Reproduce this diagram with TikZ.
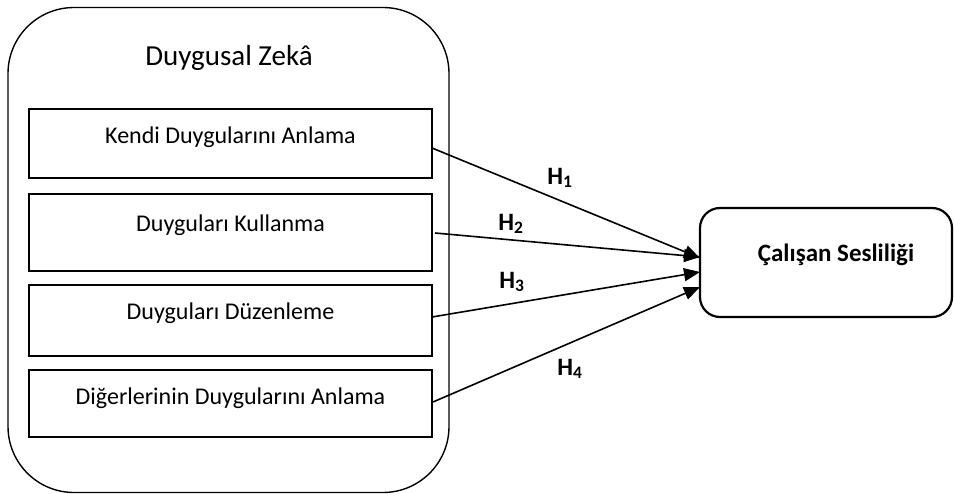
\documentclass[tikz,border=0pt]{standalone}
\usepackage{fontspec}
\setmainfont{Carlito}
\usetikzlibrary{arrows.meta}
\tikzset{
  inbox/.style={draw, line width=2.4pt, minimum width=403pt, inner sep=0pt},
  boxtext/.style={font=\fontsize{24}{28}\selectfont, inner sep=0pt, anchor=base},
  hlab/.style={font=\fontsize{25}{29}\selectfont\bfseries, inner sep=0pt},
  conn/.style={line width=1.6pt, -{Triangle[length=16pt,width=13pt]}}
}
\begin{document}
\begin{tikzpicture}[x=1pt,y=-1pt]
\useasboundingbox (0,0) rectangle (954,494);
\node[draw, line width=1.4pt, rounded corners=66pt, minimum width=441pt, minimum height=485pt, inner sep=0pt] (outer) at (228.5,250) {};
\node[font=\fontsize{29}{33}\selectfont, inner sep=0pt, anchor=base] (title) at (229,66) {Duygusal Zekâ};
\node[inbox, minimum height=69pt] (b1) at (230.5,143.5) {};
\node[inbox, minimum height=77pt] (b2) at (230.5,232.5) {};
\node[inbox, minimum height=71pt] (b3) at (230.5,320.5) {};
\node[inbox, minimum height=67pt] (b4) at (230.5,403.5) {};
\node[boxtext] (t1) at (230.5,144) {Kendi Duygularını Anlama};
\node[boxtext] (t2) at (230.5,232) {Duyguları Kullanma};
\node[boxtext] (t3) at (230.5,320) {Duyguları Düzenleme};
\node[boxtext] (t4) at (230.5,405) {Diğerlerinin Duygularını Anlama};
\node[draw, line width=2.2pt, rounded corners=20pt, minimum width=252pt, minimum height=109pt, inner sep=0pt] (cs) at (826,262.5) {};
\node[hlab, anchor=base] (cst) at (836,262) {Çalışan Sesliliği};
\coordinate (s1) at (432,148);
\coordinate (s2) at (435,233);
\coordinate (s3) at (432,317);
\coordinate (s4) at (433,402);
\coordinate (e1) at (700,258);
\coordinate (e2) at (700,257);
\coordinate (e3) at (700,272);
\coordinate (e4) at (700,287);
\draw[conn] (s1) -- (e1);
\draw[conn] (s2) -- (e2);
\draw[conn] (s3) -- (e3);
\draw[conn] (s4) -- (e4);
\node[hlab] (h1) at (560,178) {H\textsubscript{1}};
\node[hlab] (h2) at (511,224) {H\textsubscript{2}};
\node[hlab] (h3) at (512,282) {H\textsubscript{3}};
\node[hlab] (h4) at (570,369) {H\textsubscript{4}};
\end{tikzpicture}
\end{document}
